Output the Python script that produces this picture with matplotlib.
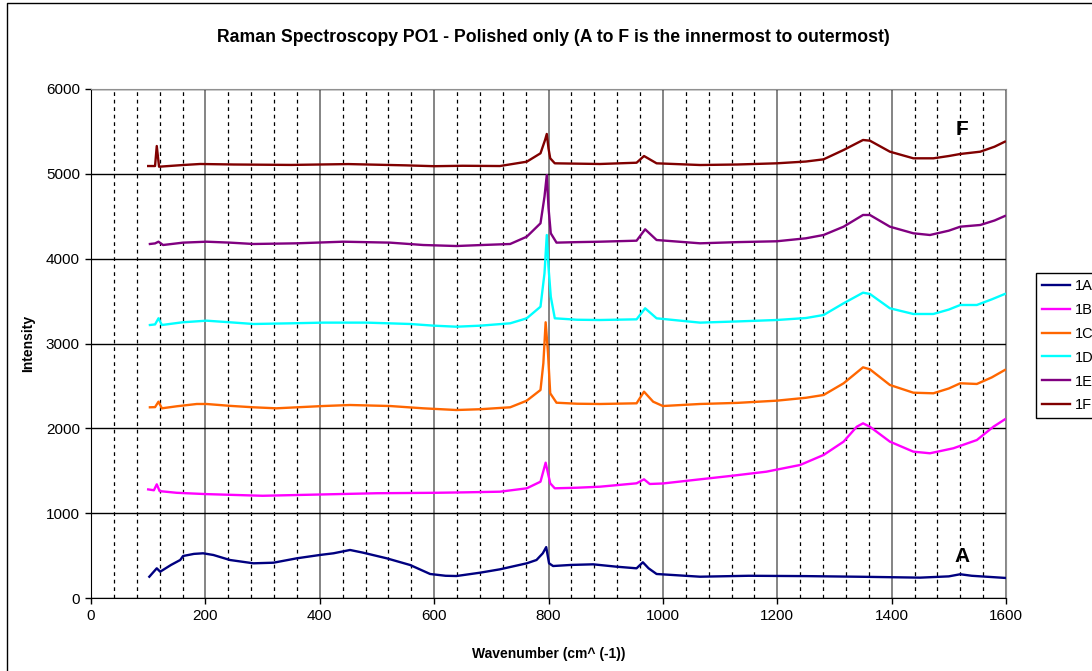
import matplotlib
matplotlib.use("Agg")
import matplotlib.pyplot as plt
from matplotlib.lines import Line2D
from matplotlib.ticker import MultipleLocator

plt.rcParams['font.family'] = ['Liberation Sans', 'DejaVu Sans']

# ---- spectra: wavenumber (cm^-1) and intensity for each position ----
wn_1a = [102, 115, 121, 140, 156, 161, 180, 196, 214, 243, 284, 319, 360, 400, 424,
         453, 476, 517, 558, 593, 620, 639, 680, 715, 762, 779, 790, 796, 801, 808,
         840, 878, 919, 954, 965, 975, 989, 1020, 1065, 1150, 1250, 1350, 1450, 1500,
         1520, 1540, 1600]
int_1a = [251, 350, 310, 390, 448, 495, 520, 527, 507, 448, 409, 416, 468, 507, 527,
          566, 534, 468, 389, 283, 262, 259, 298, 338, 409, 448, 527, 600, 409, 377,
          390, 397, 369, 350, 421, 350, 283, 270, 251, 262, 258, 250, 240, 255,
          280, 262, 236]

wn_1b = [100, 110, 115, 120, 150, 200, 250, 300, 400, 500, 600, 650, 715, 762, 786,
         795, 803, 811, 850, 890, 954, 967, 977, 1000, 1065, 1120, 1181, 1240, 1281,
         1316, 1339, 1350, 1362, 1397, 1438, 1467, 1508, 1549, 1578, 1598]
int_1b = [1280, 1270, 1340, 1260, 1240, 1225, 1215, 1205, 1220, 1235, 1240, 1245, 1253,
          1293, 1371, 1595, 1352, 1293, 1300, 1312, 1352, 1399, 1344, 1350, 1399, 1440,
          1489, 1568, 1686, 1843, 2019, 2059, 2019, 1843, 1725, 1706, 1765, 1862, 2019,
          2106]

wn_1c = [103, 112, 118, 124, 150, 185, 202, 243, 284, 324, 406, 453, 523, 581, 639,
         680, 733, 762, 786, 791, 795, 799, 803, 814, 850, 890, 954, 967, 983, 1000,
         1065, 1130, 1199, 1250, 1281, 1316, 1350, 1362, 1397, 1438, 1473, 1500, 1520,
         1549, 1575, 1598]
int_1c = [2248, 2250, 2314, 2236, 2260, 2287, 2287, 2265, 2248, 2236, 2263, 2275, 2263,
          2236, 2216, 2225, 2248, 2326, 2452, 2767, 3250, 2900, 2413, 2302, 2290, 2287,
          2295, 2432, 2314, 2263, 2287, 2300, 2326, 2360, 2393, 2531, 2719, 2696, 2511,
          2420, 2413, 2470, 2531, 2523, 2600, 2688]

wn_1d = [103, 112, 118, 124, 160, 202, 243, 284, 350, 406, 482, 558, 600, 639, 680,
         733, 762, 786, 793, 797, 800, 804, 811, 850, 890, 954, 969, 989, 1065, 1130,
         1199, 1250, 1281, 1316, 1350, 1362, 1397, 1438, 1473, 1500, 1520, 1549, 1575,
         1598]
int_1d = [3218, 3225, 3297, 3218, 3250, 3269, 3250, 3230, 3238, 3246, 3246, 3230, 3210,
          3198, 3210, 3238, 3297, 3434, 3828, 4279, 3900, 3552, 3297, 3280, 3277, 3285,
          3415, 3297, 3246, 3260, 3277, 3300, 3336, 3474, 3599, 3584, 3415, 3348, 3348,
          3400, 3454, 3454, 3520, 3584]

wn_1e = [103, 112, 118, 126, 161, 202, 243, 284, 360, 441, 523, 581, 639, 680, 733,
         762, 786, 793, 797, 800, 804, 814, 850, 890, 954, 969, 989, 1065, 1130, 1199,
         1250, 1281, 1316, 1350, 1362, 1397, 1438, 1467, 1500, 1520, 1555, 1580, 1598]
int_1e = [4173, 4180, 4200, 4161, 4189, 4200, 4189, 4173, 4181, 4200, 4189, 4161, 4149,
          4160, 4173, 4259, 4417, 4731, 4986, 4600, 4299, 4189, 4195, 4200, 4212, 4346,
          4220, 4181, 4195, 4205, 4240, 4279, 4377, 4515, 4515, 4377, 4299, 4279, 4330,
          4377, 4397, 4450, 4503]

wn_1f = [100, 112, 115, 119, 161, 191, 250, 350, 450, 550, 600, 650, 715, 762, 786,
         794, 797, 800, 803, 811, 850, 890, 954, 967, 989, 1065, 1130, 1199, 1250, 1281,
         1316, 1350, 1362, 1397, 1438, 1473, 1500, 1520, 1555, 1580, 1598]
int_1f = [5092, 5092, 5328, 5084, 5104, 5116, 5110, 5105, 5115, 5100, 5090, 5095, 5092,
          5143, 5242, 5399, 5470, 5300, 5183, 5124, 5120, 5116, 5131, 5210, 5124, 5104,
          5110, 5124, 5145, 5171, 5281, 5399, 5391, 5261, 5183, 5183, 5210, 5234, 5261,
          5320, 5379]

series_names = ["1A", "1B", "1C", "1D", "1E", "1F"]
series_x = [wn_1a, wn_1b, wn_1c, wn_1d, wn_1e, wn_1f]
series_y = [int_1a, int_1b, int_1c, int_1d, int_1e, int_1f]
series_colors = ["#000080", "#FF00FF", "#FF6600", "#00FFFF", "#800080", "#800000"]

title = "Raman Spectroscopy PO1 - Polished only (A to F is the innermost to outermost)"
x_label = "Wavenumber (cm^ (-1))"
y_label = "Intensity"

W, H = 1092, 671
fig = plt.figure(figsize=(W / 100, H / 100), dpi=100)
fig.patch.set_facecolor("white")

# chart-area border (top and left edges fall inside the canvas)
fig.add_artist(Line2D([7 / W, 7 / W, 1.0], [0.0, 1 - 3 / H, 1 - 3 / H],
                      transform=fig.transFigure, color="black", linewidth=1.0))

ax = fig.add_axes([91 / W, 1 - 598 / H, (1006 - 91) / W, (598 - 89) / H])

for name, xs, ys, c in zip(series_names, series_x, series_y, series_colors):
    ax.plot(xs, ys, color=c, linewidth=1.7, label=name, zorder=3)

ax.set_xlim(0, 1600)
ax.set_ylim(0, 6000)
ax.xaxis.set_major_locator(MultipleLocator(200))
ax.xaxis.set_minor_locator(MultipleLocator(40))
ax.yaxis.set_major_locator(MultipleLocator(1000))

ax.grid(which="major", axis="y", color="black", linewidth=1.0, zorder=1)
ax.grid(which="major", axis="x", color="#707070", linewidth=1.2, zorder=1)
ax.grid(which="minor", axis="x", color="black", linewidth=0.9,
        linestyle=(0, (3, 3)), zorder=1)
ax.set_axisbelow(True)

for side in ("top", "right"):
    ax.spines[side].set_color("#909090")
for side in ("left", "bottom"):
    ax.spines[side].set_color("black")

ax.tick_params(axis="both", which="major", direction="out", length=4, width=1,
               labelsize=11, pad=4, color="black")
ax.tick_params(axis="x", which="minor", length=0)

ax.set_xlabel(x_label, fontsize=10, fontweight="bold")
ax.set_ylabel(y_label, fontsize=10, fontweight="bold")
ax.xaxis.set_label_coords(0.5, -0.097)
ax.yaxis.set_label_coords(-0.061, 0.5)

fig.text(553 / W, 1 - 37 / H, title, ha="center", va="center",
         fontsize=12.7, fontweight="bold")

ax.text(1523, 5517, "F", ha="center", va="center", fontsize=15, fontweight="bold")
ax.text(1523, 495, "A", ha="center", va="center", fontsize=15, fontweight="bold")

leg = fig.legend(loc="upper left", bbox_to_anchor=(1036 / W, 1 - 273 / H),
                 fontsize=10.5, frameon=True, fancybox=False, framealpha=1,
                 edgecolor="black", handlelength=1.9, handletextpad=0.4,
                 labelspacing=0.68, borderpad=0.4, borderaxespad=0)
leg.get_frame().set_linewidth(1.0)

fig.savefig("out.png", dpi=100, facecolor="white")
